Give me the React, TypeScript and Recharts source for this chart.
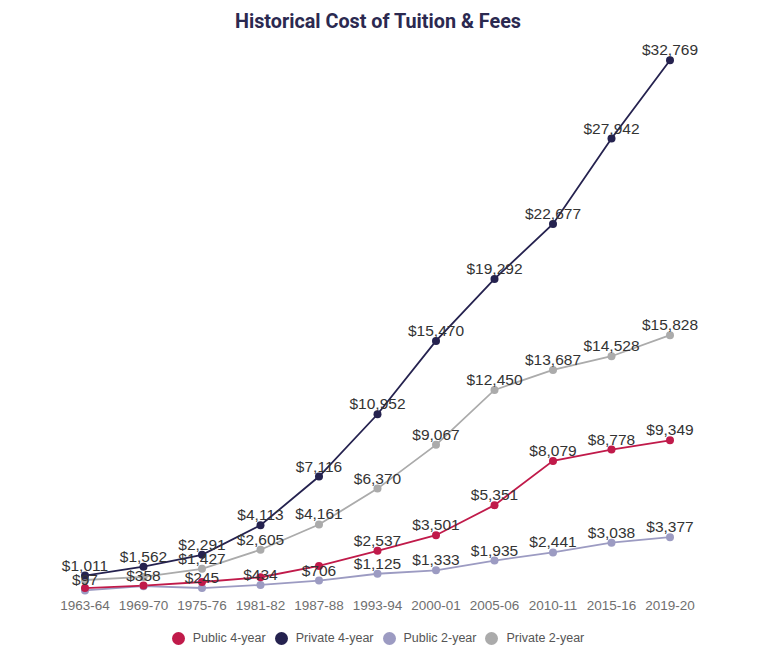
import React from 'react';
import { LineChart, Line, XAxis, YAxis, LabelList } from 'recharts';

// school years
const years = ['1963-64', '1969-70', '1975-76', '1981-82', '1987-88', '1993-94', '2000-01', '2005-06', '2010-11', '2015-16', '2019-20'];

// tuition & fees, dollars
const public4 = [243, 399, 617, 909, 1608, 2537, 3501, 5351, 8079, 8778, 9349];
const private4 = [1011, 1562, 2291, 4113, 7116, 10952, 15470, 19292, 22677, 27942, 32769];
const public2 = [97, 358, 245, 434, 706, 1125, 1333, 1935, 2441, 3038, 3377];
const private2 = [740, 930, 1427, 2605, 4161, 6370, 9067, 12450, 13687, 14528, 15828];

// which point labels survive (the rest are hidden by overlap in the original)
const public4Shown = [false, false, false, false, false, true, true, true, true, true, true];
const private2Shown = [false, false, true, true, true, true, true, true, true, true, true];

const series = [
  { key: 'public4', name: 'Public 4-year', color: '#c01a4a' },
  { key: 'private4', name: 'Private 4-year', color: '#25224f' },
  { key: 'public2', name: 'Public 2-year', color: '#9c9bc2' },
  { key: 'private2', name: 'Private 2-year', color: '#ababab' },
];

const data = years.map((year, i) => ({
  year,
  public4: public4[i],
  private4: private4[i],
  public2: public2[i],
  private2: private2[i],
}));

const fmt = (v: number) => '$' + v.toLocaleString('en-US');

const makeLabel = (shown?: boolean[]) => (props: any) => {
  const { x, y, value, index } = props;
  if (shown && !shown[index]) return null;
  return (
    <text x={x} y={y - 5} textAnchor="middle" fontSize={15.5} fill="#333" fontFamily="'Liberation Sans', Arial, sans-serif">
      {fmt(value)}
    </text>
  );
};

const shownMap: Record<string, boolean[] | undefined> = {
  public4: public4Shown,
  private2: private2Shown,
};

// draw order: lower series first so the top lines sit over them
const drawOrder = ['public2', 'public4', 'private2', 'private4'];

export default function App() {
  return (
    <div style={{ position: 'absolute', left: 0, top: 0, width: 768, height: 671, background: '#fff' }}>
      <div style={{ position: 'absolute', top: 10, left: 0, width: 756, textAlign: 'center', fontFamily: 'Roboto, sans-serif', fontWeight: 700, fontSize: 19.8, color: '#2b2950' }}>
        Historical Cost of Tuition &amp; Fees
      </div>
      <LineChart width={768} height={671} data={data} margin={{ top: 24, right: 98, bottom: 49, left: 85 }} accessibilityLayer={false}>
        <XAxis dataKey="year" axisLine={false} tickLine={false} height={30} tickMargin={2} interval={0}
          tick={{ fill: '#6f6f6f', fontSize: 13.5, fontFamily: "'Liberation Sans', Arial, sans-serif" }} />
        <YAxis hide domain={[0, 35000]} />
        {drawOrder.map((k) => {
          const s = series.find((x) => x.key === k)!;
          return (
            <Line key={k} dataKey={k} name={s.name} stroke={s.color} strokeWidth={1.8} type="linear"
              dot={{ r: 4, fill: s.color, stroke: s.color, strokeWidth: 0 }} isAnimationActive={false}>
              <LabelList dataKey={k} content={makeLabel(shownMap[k])} />
            </Line>
          );
        })}
      </LineChart>
      <div style={{ position: 'absolute', top: 631, left: 0, width: 756, display: 'flex', justifyContent: 'center', gap: 9, fontFamily: "'Liberation Sans', Arial, sans-serif", fontSize: 12.5, color: '#555' }}>
        {series.map((s) => (
          <div key={s.key} style={{ display: 'flex', alignItems: 'center', gap: 8 }}>
            <span style={{ display: 'block', width: 13, height: 13, borderRadius: '50%', background: s.color }}></span>
            <span>{s.name}</span>
          </div>
        ))}
      </div>
    </div>
  );
}
